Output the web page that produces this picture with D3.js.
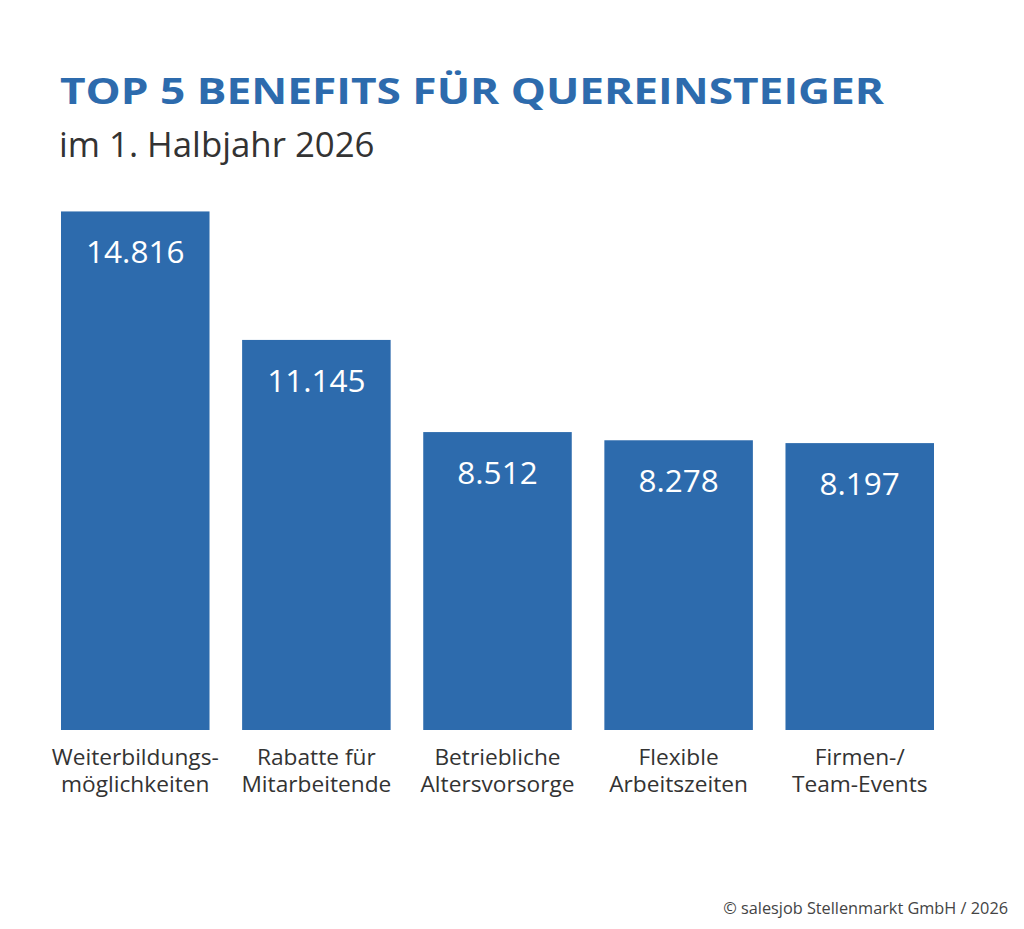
<!DOCTYPE html>
<html>
<head>
<meta charset="utf-8">
<script src="https://cdn.jsdelivr.net/npm/d3@7"></script>
<style>
  body { margin: 0; background: #fff; }
  text { font-family: "Open Sans", sans-serif; }
</style>
</head>
<body>
<div id="chart"></div>
<script>
// data
const categories = [
  ["Weiterbildungs-", "möglichkeiten"],
  ["Rabatte für", "Mitarbeitende"],
  ["Betriebliche", "Altersvorsorge"],
  ["Flexible", "Arbeitszeiten"],
  ["Firmen-/", "Team-Events"]
];
const values = [14816, 11145, 8512, 8278, 8197];

const width = 1024, height = 929;
const blue = "#2d6bad";

const svg = d3.select("#chart").append("svg")
    .attr("width", width)
    .attr("height", height);

// title
svg.append("text")
    .attr("x", 60).attr("y", 104)
    .attr("fill", blue)
    .attr("font-family", "'DejaVu Sans', sans-serif")
    .attr("font-weight", 700)
    .attr("font-size", 35)
    .attr("textLength", 824)
    .attr("lengthAdjust", "spacingAndGlyphs")
    .text("TOP 5 BENEFITS FÜR QUEREINSTEIGER");

svg.append("text")
    .attr("x", 59).attr("y", 157)
    .attr("fill", "#333")
    .attr("font-size", 34.8)
    .text("im 1. Halbjahr 2026");

const x = d3.scaleBand()
    .domain(d3.range(values.length))
    .range([61, 934])
    .paddingInner(0.18)
    .paddingOuter(0);

const y = d3.scaleLinear()
    .domain([0, 15000])
    .range([730, 205]);

const bars = svg.append("g")
  .selectAll("g")
  .data(values)
  .join("g");

bars.append("rect")
    .attr("x", (d, i) => x(i))
    .attr("y", d => y(d))
    .attr("width", x.bandwidth())
    .attr("height", d => y(0) - y(d))
    .attr("fill", blue);

bars.append("text")
    .attr("x", (d, i) => x(i) + x.bandwidth() / 2)
    .attr("y", d => y(d) + 52)
    .attr("text-anchor", "middle")
    .attr("fill", "#fff")
    .attr("font-size", 31.5)
    .text(d => d3.format(",")(d).replace(/,/g, "."));

// category labels
const labels = svg.append("g")
  .selectAll("text")
  .data(categories)
  .join("text")
    .attr("x", (d, i) => x(i) + x.bandwidth() / 2)
    .attr("y", 765)
    .attr("text-anchor", "middle")
    .attr("fill", "#333")
    .attr("font-size", 22.7);

labels.selectAll("tspan")
  .data(d => d)
  .join("tspan")
    .attr("x", function() { return d3.select(this.parentNode).attr("x"); })
    .attr("dy", (d, i) => i === 0 ? 0 : 27)
    .text(d => d);

// footer
svg.append("text")
    .attr("x", 1008).attr("y", 914)
    .attr("text-anchor", "end")
    .attr("fill", "#444")
    .attr("font-size", 16.3)
    .text("© salesjob Stellenmarkt GmbH / 2026");
</script>
</body>
</html>
